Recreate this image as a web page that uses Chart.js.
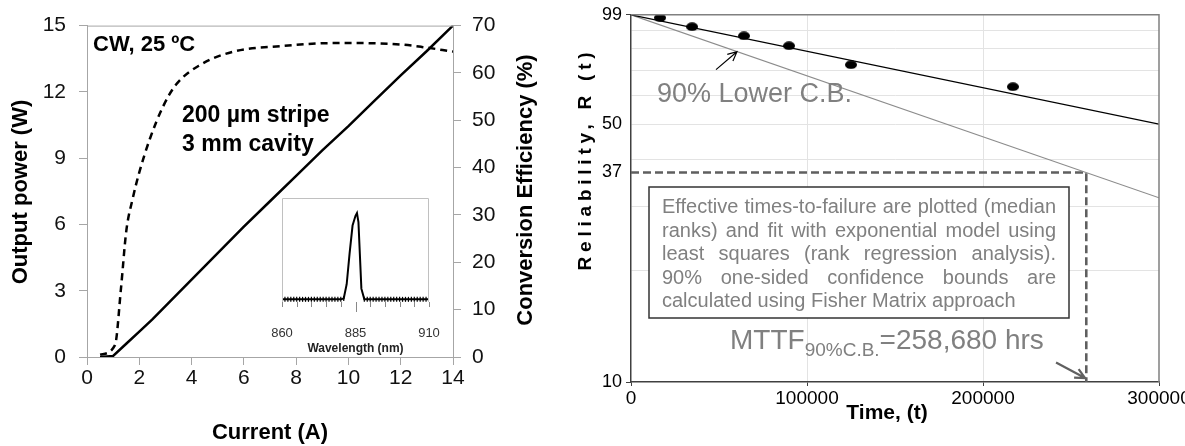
<!DOCTYPE html>
<html>
<head>
<meta charset="utf-8">
<script src="https://cdn.jsdelivr.net/npm/chart.js@4.4.1/dist/chart.umd.min.js"></script>
<style>
  body { margin: 0; background: #fff; width: 1185px; height: 446px; overflow: hidden; position: relative; }
  canvas { position: absolute; }
</style>
</head>
<body>
<canvas id="lpChart" width="580" height="446" style="left:0;top:0"></canvas>
<canvas id="specChart" width="190" height="170" style="left:262px;top:190px"></canvas>
<canvas id="relChart" width="625" height="446" style="left:575px;top:0"></canvas>
<script>
// ---- left chart: L-I curve and conversion efficiency
const currentA = [0.5, 1.0, 1.5, 2, 2.5, 3, 3.5, 4, 5, 6, 7, 8, 9, 10, 11, 12, 13, 14];
const powerW = [0, 0.05, 0.6, 1.15, 1.7, 2.3, 2.9, 3.5, 4.7, 5.9, 7.05, 8.2, 9.35, 10.45, 11.6, 12.75, 13.85, 15.0];
const effCurrentA = [0.5, 1.07, 1.3, 1.5, 1.75, 2.0, 2.4, 2.9, 3.4, 4.3, 5.6, 7.5, 9.4, 10.5, 12, 12.8, 14];
const effPct = [0.5, 2.5, 14.5, 26.5, 33.5, 39, 46, 52.8, 57.5, 61.6, 64.5, 65.7, 66.3, 66.3, 66, 65.5, 64.5];
const currentTicks = [0, 2, 4, 6, 8, 10, 12, 14];
const powerTicks = [0, 3, 6, 9, 12, 15];
const effTicks = [0, 10, 20, 30, 40, 50, 60, 70];

// ---- inset: emission spectrum
const wavelengthNm = [860, 861, 862, 863, 864, 865, 866, 867, 868, 869, 870, 871, 872, 873, 874, 875,
  876, 877, 878, 879, 880, 881, 882, 883, 884, 885, 885.5, 886, 887, 888, 889, 890, 891, 892, 893,
  894, 895, 896, 897, 898, 899, 900, 901, 902, 903, 904, 905, 906, 907, 908, 909, 910];
const intensity = [0.03, 0.03, 0.03, 0.03, 0.03, 0.03, 0.03, 0.03, 0.03, 0.03, 0.03, 0.03, 0.03, 0.03, 0.03, 0.03,
  0.03, 0.03, 0.03, 0.03, 0.03, 0.04, 0.2, 0.55, 0.86, 0.97, 1.0, 0.9, 0.15, 0.03, 0.03, 0.03, 0.03, 0.03, 0.03,
  0.03, 0.03, 0.03, 0.03, 0.03, 0.03, 0.03, 0.03, 0.03, 0.03, 0.03, 0.03, 0.03, 0.03, 0.03, 0.03, 0.03];
const wavelengthLabels = [860, 885, 910];

// ---- right chart: reliability plot
const failTimeH = [16500, 34700, 64200, 89800, 125000, 217000];
const reliabilityPct = [97.2, 91.9, 86.8, 81.6, 72.5, 63.2];
const fitTimeH = [0, 300000];
const fitRelPct = [99, 50];
const lowerCbTimeH = [0, 300000];
const lowerCbRelPct = [99, 31.6];
const mttfTimeH = [0, 258680, 258680];
const mttfRelPct = [37, 37, 10];
const relGridPct = [99, 90, 80, 70, 60, 50, 40, 37, 30, 20, 10];
const relLabelPct = [99, 50, 37, 10];
const timeTicks = [0, 100000, 200000, 300000];

const FONT = "'Liberation Sans', Arial, Helvetica, sans-serif";
Chart.defaults.font.family = FONT;
Chart.defaults.color = '#000';

const pts = (xs, ys) => xs.map((x, i) => ({ x: x, y: ys[i] }));
const setTicks = arr => scale => { scale.ticks = arr.map(v => ({ value: v })); };
const noPlugins = { legend: { display: false }, tooltip: { enabled: false } };
// empty axis used only to reserve a fixed strip beside the plot
const spacer = (pos, w) => ({ position: pos, min: 0, max: 1, ticks: { display: false },
  grid: { display: false }, border: { display: false }, afterFit(s) { s.width = w; } });

function arrow(ctx, x1, y1, x2, y2, color, width, head) {
  const a = Math.atan2(y2 - y1, x2 - x1);
  ctx.save();
  ctx.strokeStyle = color;
  ctx.lineWidth = width;
  ctx.beginPath();
  ctx.moveTo(x1, y1); ctx.lineTo(x2, y2);
  ctx.moveTo(x2 - head * Math.cos(a - 0.45), y2 - head * Math.sin(a - 0.45));
  ctx.lineTo(x2, y2);
  ctx.lineTo(x2 - head * Math.cos(a + 0.45), y2 - head * Math.sin(a + 0.45));
  ctx.stroke();
  ctx.restore();
}

function vText(ctx, text, x, y, font, spacing) {
  ctx.save();
  ctx.translate(x, y);
  ctx.rotate(-Math.PI / 2);
  ctx.font = font;
  ctx.textAlign = 'center';
  ctx.textBaseline = 'middle';
  if (spacing) ctx.letterSpacing = spacing + 'px';
  ctx.fillText(text, 0, 0);
  ctx.restore();
}

const lpDecor = {
  id: 'lpDecor',
  afterDraw(chart) {
    const ctx = chart.ctx, ca = chart.chartArea;
    ctx.save();
    ctx.strokeStyle = '#a6a6a6';
    ctx.lineWidth = 1;
    ctx.beginPath();
    ctx.moveTo(ca.left, ca.top + 0.5); ctx.lineTo(ca.right, ca.top + 0.5);
    ctx.stroke();
    ctx.fillStyle = '#000';
    ctx.textBaseline = 'middle';
    ctx.font = 'bold 22px ' + FONT;
    ctx.fillText('CW, 25 ºC', ca.left + 6, ca.top + 19);
    ctx.font = 'bold 23px ' + FONT;
    ctx.fillText('200 µm stripe', ca.left + 95, ca.top + 90);
    ctx.fillText('3 mm cavity', ca.left + 95, ca.top + 119);
    ctx.font = 'bold 22px ' + FONT;
    ctx.textAlign = 'center';
    ctx.fillText('Current (A)', (ca.left + ca.right) / 2, 433);
    ctx.restore();
    vText(ctx, 'Output power (W)', 21, 192, 'bold 22px ' + FONT);
    vText(ctx, 'Conversion Efficiency (%)', 526, 190, 'bold 22px ' + FONT);
  }
};

new Chart(document.getElementById('lpChart'), {
  type: 'line',
  data: {
    datasets: [
      { label: 'Output power', data: pts(currentA, powerW), yAxisID: 'y',
        borderColor: '#000', borderWidth: 2.5, pointRadius: 0, tension: 0 },
      { label: 'Conversion efficiency', data: pts(effCurrentA, effPct), yAxisID: 'y2',
        borderColor: '#000', borderWidth: 2.5, borderDash: [7, 5], pointRadius: 0,
        cubicInterpolationMode: 'monotone' }
    ]
  },
  options: {
    responsive: false, animation: false, devicePixelRatio: 1,
    layout: { padding: { top: 16, left: 0, right: 0, bottom: 0 } },
    plugins: noPlugins,
    scales: {
      x: { type: 'linear', min: 0, max: 14, afterBuildTicks: setTicks(currentTicks),
        ticks: { font: { size: 21 }, color: '#111', padding: 1, maxRotation: 0, autoSkip: false },
        grid: { drawOnChartArea: false, tickLength: 8, color: '#a6a6a6' },
        border: { color: '#a6a6a6' },
        afterFit(s) { s.height = 89; } },
      y: { position: 'left', min: 0, max: 15, afterBuildTicks: setTicks(powerTicks),
        ticks: { font: { size: 21 }, color: '#111', padding: 13, autoSkip: false },
        grid: { drawOnChartArea: false, tickLength: 8, color: '#a6a6a6' },
        border: { color: '#a6a6a6' },
        afterFit(s) { s.width = 87; } },
      y2: { position: 'right', min: 0, max: 70, afterBuildTicks: setTicks(effTicks),
        ticks: { font: { size: 21 }, color: '#111', padding: 11, autoSkip: false },
        grid: { drawOnChartArea: false, tickLength: 8, color: '#a6a6a6' },
        border: { color: '#a6a6a6' },
        afterFit(s) { s.width = 127; } }
    }
  },
  plugins: [lpDecor]
});

const specDecor = {
  id: 'specDecor',
  afterDraw(chart) {
    const ctx = chart.ctx, ca = chart.chartArea, xs = chart.scales.x;
    ctx.save();
    ctx.strokeStyle = '#c0c0c0';
    ctx.lineWidth = 1;
    ctx.beginPath();
    ctx.moveTo(ca.left + 0.5, ca.bottom); ctx.lineTo(ca.left + 0.5, ca.top + 0.5);
    ctx.lineTo(ca.right - 0.5, ca.top + 0.5); ctx.lineTo(ca.right - 0.5, ca.bottom);
    ctx.stroke();
    // tick marks every 5 nm, longer under the labelled centre wavelength
    ctx.strokeStyle = '#888';
    ctx.beginPath();
    xs.ticks.forEach(t => {
      const x = Math.round(xs.getPixelForValue(t.value)) + 0.5;
      const len = t.value === wavelengthLabels[1] ? 10 : 5;
      ctx.moveTo(x, ca.bottom); ctx.lineTo(x, ca.bottom + len);
    });
    ctx.stroke();
    // tick labels (drawn here so they do not widen the layout)
    ctx.fillStyle = '#333';
    ctx.font = '13px ' + FONT;
    ctx.textAlign = 'center';
    ctx.textBaseline = 'middle';
    wavelengthLabels.forEach(w => ctx.fillText(String(w), xs.getPixelForValue(w), 143));
    ctx.fillStyle = '#222';
    ctx.font = 'bold 12px ' + FONT;
    ctx.fillText('Wavelength (nm)', (ca.left + ca.right) / 2, 159);
    ctx.restore();
  }
};

new Chart(document.getElementById('specChart'), {
  type: 'line',
  data: {
    datasets: [{ label: 'Spectrum', data: pts(wavelengthNm, intensity),
      borderColor: '#000', borderWidth: 2, tension: 0,
      pointStyle: 'line', rotation: 90, pointBorderWidth: 1.2, pointBorderColor: '#000',
      pointRadius: c => (c.raw && c.raw.y < 0.1 ? 2.5 : 0) }]
  },
  options: {
    responsive: false, animation: false, devicePixelRatio: 1,
    layout: { padding: { top: 8, left: 0, right: 0, bottom: 0 } },
    plugins: noPlugins,
    scales: {
      x: { type: 'linear', min: 860, max: 910,
        afterBuildTicks(s) { s.ticks = wavelengthNm.filter(w => w % 5 === 0).map(w => ({ value: w })); },
        ticks: { display: false },
        grid: { display: false },
        border: { display: false },
        afterFit(s) { s.height = 58; } },
      y: { display: false, min: 0, max: 1.17 },
      padL: spacer('left', 20),
      padR: spacer('right', 23)
    }
  },
  plugins: [specDecor]
});

// ---- reliability chart
const lnR = r => Math.log(r / 100);

const dot = document.createElement('canvas');
dot.width = 12; dot.height = 9;
(function () {
  const d = dot.getContext('2d');
  d.fillStyle = '#000';
  d.beginPath(); d.ellipse(6, 4.5, 6, 4.3, 0, 0, Math.PI * 2); d.fill();
})();

const relDecor = {
  id: 'relDecor',
  afterDraw(chart) {
    const ctx = chart.ctx, ca = chart.chartArea;
    const xs = chart.scales.x, ys = chart.scales.y;
    const px = t => xs.getPixelForValue(t), py = r => ys.getPixelForValue(lnR(r));
    ctx.save();
    // top and right frame
    ctx.strokeStyle = '#808080';
    ctx.lineWidth = 1.5;
    ctx.beginPath();
    ctx.moveTo(ca.left, ca.top); ctx.lineTo(ca.right, ca.top); ctx.lineTo(ca.right, ca.bottom);
    ctx.stroke();

    // lower bound label and pointer
    ctx.fillStyle = '#808080';
    ctx.font = '27px ' + FONT;
    ctx.textBaseline = 'alphabetic';
    ctx.fillText('90% Lower C.B.', ca.left + 26, 102);
    arrow(ctx, px(48300), py(70.3), px(60200), py(78.6), '#000', 1.2, 10);

    // note box
    const bx = ca.left + 18, by = 187, bw = 420, bh = 131;
    ctx.fillStyle = '#fff';
    ctx.fillRect(bx, by, bw, bh);
    ctx.strokeStyle = '#333';
    ctx.lineWidth = 1.5;
    ctx.strokeRect(bx, by, bw, bh);
    ctx.fillStyle = '#808080';
    ctx.font = '20px ' + FONT;
    const lines = ['Effective times-to-failure are plotted (median',
      'ranks) and fit with exponential model using',
      'least squares (rank regression analysis).',
      '90% one-sided confidence bounds are',
      'calculated using Fisher Matrix approach'];
    const tx = bx + 13, tw = 394;
    lines.forEach((line, i) => {
      const y = 213 + i * 23.5;
      if (i === lines.length - 1) { ctx.fillText(line, tx, y); return; }
      const words = line.split(' ');
      const sum = words.reduce((s, w) => s + ctx.measureText(w).width, 0);
      const gap = (tw - sum) / (words.length - 1);
      let cx = tx;
      words.forEach(w => { ctx.fillText(w, cx, y); cx += ctx.measureText(w).width + gap; });
    });

    // MTTF label
    let mx = ca.left + 99;
    ctx.font = '28px ' + FONT;
    ctx.fillText('MTTF', mx, 349);
    mx += ctx.measureText('MTTF').width;
    ctx.font = '19px ' + FONT;
    ctx.fillText('90%C.B.', mx, 356);
    mx += ctx.measureText('90%C.B.').width;
    ctx.font = '28px ' + FONT;
    ctx.fillText('=258,680 hrs', mx, 349);
    arrow(ctx, px(241500), py(11.3), px(258000), py(10.25), '#606060', 2.2, 11);

    // axis titles
    ctx.fillStyle = '#000';
    ctx.font = 'bold 21px ' + FONT;
    ctx.textAlign = 'center';
    ctx.textBaseline = 'middle';
    ctx.fillText('Time, (t)', 312, 413);
    ctx.restore();

    const title = 'Reliability, R (t)';
    ctx.save();
    ctx.font = 'bold 19px ' + FONT;
    const w0 = ctx.measureText(title).width;
    ctx.restore();
    vText(ctx, title, 11, 159, 'bold 19px ' + FONT, (218 - w0) / (title.length - 1));
  }
};

new Chart(document.getElementById('relChart'), {
  type: 'line',
  data: {
    datasets: [
      { label: 'Median ranks', data: pts(failTimeH, reliabilityPct.map(lnR)), showLine: false,
        pointStyle: dot, pointRadius: 6 },
      { label: 'Exponential fit', data: pts(fitTimeH, fitRelPct.map(lnR)),
        borderColor: '#000', borderWidth: 1.3, pointRadius: 0 },
      { label: '90% lower C.B.', data: pts(lowerCbTimeH, lowerCbRelPct.map(lnR)),
        borderColor: '#8c8c8c', borderWidth: 1.1, pointRadius: 0 },
      { label: 'MTTF', data: pts(mttfTimeH, mttfRelPct.map(lnR)),
        borderColor: '#5f5f5f', borderWidth: 2.6, borderDash: [8, 4], pointRadius: 0 }
    ]
  },
  options: {
    responsive: false, animation: false, devicePixelRatio: 1,
    layout: { padding: { top: 14, left: 0, right: 41, bottom: 0 } },
    plugins: noPlugins,
    scales: {
      x: { type: 'linear', min: 0, max: 300000, afterBuildTicks: setTicks(timeTicks),
        ticks: { font: { size: 19 }, color: '#000', padding: 1, maxRotation: 0, autoSkip: false,
          callback: v => String(v) },
        grid: { color: c => (c.tick && c.tick.value > 0 && c.tick.value < 300000 ? '#e3e3e3' : 'rgba(0,0,0,0)'),
          tickColor: '#404040', tickLength: 4 },
        border: { color: '#404040', width: 1.5 },
        afterFit(s) { s.height = 64; } },
      y: { type: 'linear', min: lnR(10), max: lnR(99),
        afterBuildTicks(s) { s.ticks = relGridPct.map(r => ({ value: lnR(r) })); },
        ticks: { font: { size: 18 }, color: '#000', padding: 4, autoSkip: false,
          callback: (v, i) => (relLabelPct.includes(relGridPct[i]) ? String(relGridPct[i]) : '') },
        grid: {
          color: c => { const r = relGridPct[c.index]; return (r === 99 || r === 10 || r === 37) ? 'rgba(0,0,0,0)' : '#e3e3e3'; },
          tickColor: c => { const r = relGridPct[c.index]; return (r === 99 || r === 10) ? '#404040' : 'rgba(0,0,0,0)'; },
          tickLength: 5 },
        border: { color: '#404040', width: 1.5 },
        afterFit(s) { s.width = 56; } }
    }
  },
  plugins: [relDecor]
});
</script>
</body>
</html>
